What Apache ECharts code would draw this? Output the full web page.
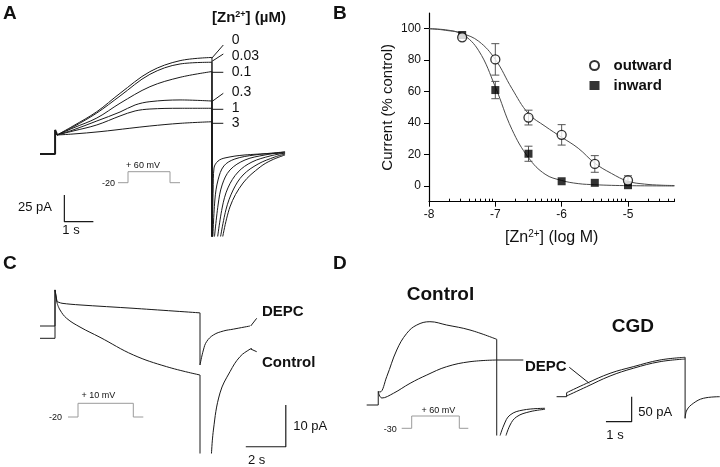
<!DOCTYPE html>
<html><head><meta charset="utf-8">
<script src="https://cdn.jsdelivr.net/npm/echarts@6/dist/echarts.min.js"></script>
<style>html,body{margin:0;padding:0;background:#fff}#c{width:720px;height:467px}</style>
</head><body><div id="c"></div>
<script>
// ---------- Panel B: dose-response ----------
const logConc = [-7.5, -7, -6.5, -6, -5.5, -5];
const outwardMean = [94.5, 80.5, 43.5, 32.5, 14, 3.5];
const outwardErr = [0, 10, 4.7, 6.5, 5.3, 3];
const inwardMean = [96, 61, 20.5, 3, 2, 0.5];
const inwardErr = [0, 5.5, 4.8, 0, 0, 0];
const fitX = [-8, -7.75, -7.5, -7.25, -7, -6.75, -6.5, -6.25, -6, -5.75, -5.5, -5.25, -5, -4.75, -4.5, -4.3];
const outwardFit = [100, 99.3, 97, 92, 80.5, 62, 46, 38, 31, 24, 14.5, 8, 3, 1.2, 0.5, 0.3];
const inwardFit = [100, 99, 96.5, 86, 63, 36, 18, 7.5, 3.5, 1.5, 0.8, 0.4, 0.2, 0.1, 0.05, 0];
const xTicks = [-8, -7, -6, -5];
const yTicks = [0, 20, 40, 60, 80, 100];

// ---------- Panel A: traces, time (s) / current (pA) ----------
const aHold = [[0, 0], [0.52, 0], [0.52, 22.5], [0.59, 17.8]];
const aStep0 = [[0.59, 17.8], [1.14, 26.2], [1.96, 39.6], [2.76, 56.8], [3.79, 77.1], [4.83, 87.4], [5.93, 90.4]];
const aTail0 = [[6.25, -85], [6.55, -49.6], [7.0, -27.2], [7.59, -12.2], [8.0, -5.6], [8.45, -0.9]];
const aStep003 = [[0.59, 17.8], [1.14, 25.3], [1.96, 38.4], [2.76, 54.3], [3.79, 74.6], [4.83, 84.3], [5.93, 85.9]];
const aTail003 = [[6.18, -85], [6.41, -52.4], [6.66, -33.7], [7.0, -19.7], [7.52, -9.4], [8.10, -2.8], [8.45, 0]];
const aStep01 = [[0.59, 17.8], [1.14, 24.3], [1.96, 33.7], [2.76, 47.5], [3.79, 63.0], [4.83, 71.8], [5.93, 77.2]];
const aTail01 = [[6.09, -85], [6.28, -50.6], [6.48, -31.8], [6.83, -16.9], [7.31, -7.5], [7.93, -1.9], [8.45, 0.9]];
const aStep03 = [[0.59, 17.8], [1.14, 22.5], [1.96, 30.9], [2.76, 39.3], [3.28, 45.9], [3.79, 49.0], [4.83, 50.6], [5.93, 49.6]];
const aTail03 = [[5.99, -85], [6.14, -47.8], [6.28, -29.0], [6.55, -15.0], [7.07, -5.6], [7.76, -0.9], [8.45, 1.9]];
const aStep1 = [[0.59, 17.8], [1.14, 21.5], [1.96, 27.2], [2.76, 35.6], [3.28, 40.3], [3.79, 42.1], [4.83, 42.8], [5.93, 42.8]];
const aTail1 = [[5.95, -85], [6.03, -43.1], [6.14, -24.3], [6.34, -11.2], [6.72, -4.7], [7.41, -0.9], [8.45, 1.9]];
const aStep3 = [[0.59, 17.8], [1.14, 18.7], [2.07, 20.9], [3.10, 24.1], [3.79, 26.2], [4.83, 28.7], [5.93, 30.2]];
const aTail3 = [[5.935, -85], [5.97, -33.7], [6.0, -13.1], [6.14, -6.6], [6.38, -3.7], [7.07, -0.9], [8.45, 0.9]];
const aConcLabels = ['0', '0.03', '0.1', '0.3', '1', '3'];
const aScaleBar = [[0.84, -38.4], [0.84, -63.4], [1.84, -63.4]]; // 25 pA, 1 s

// ---------- Panel C ----------
const cHoldDepc = [[0, 2.95], [0.75, 2.95], [0.75, 11.6], [0.85, 8.8]];
const cStepDepc = [[0.85, 8.8], [1.1, 8.4], [2.0, 8.0], [4.65, 7.2], [8.0, 6.1]];
const cTailDepc = [[8.0, -6.4], [8.17, -2.8], [8.33, -0.8], [8.67, 0.8], [9.17, 1.75], [9.67, 2.2], [10.5, 2.95]];
const cHoldCtrl = [[0, 0], [0.75, 0], [0.75, 11.6], [0.85, 8.5]];
const cStepCtrl = [[0.85, 8.5], [1.0, 6.8], [1.33, 4.8], [2.0, 2.7], [3.0, 0.24], [4.67, -4.0], [6.33, -6.8], [8.0, -8.8]];
const cTailCtrl = [[8.55, -30], [8.67, -22.0], [9.0, -13.1], [9.5, -8.0], [10.0, -4.4], [10.5, -2.6], [10.6, -2.45]];
const cScaleBar = [[12.29, -16.0], [12.29, -26.0], [10.29, -26.0]]; // 10 pA, 2 s

// ---------- Panel D ----------
const dHold = [[0.26, 0], [0.71, 0], [0.71, 27]];
const dCtrl = [[0.71, 27], [0.78, 26], [1.04, 56.6], [1.43, 110], [1.82, 143.4], [2.21, 160], [2.72, 166.6], [3.37, 160], [4.28, 150], [5.32, 131.4]];
const dDepc = [[0.71, 27], [0.85, 14], [1.30, 23.4], [1.95, 43.4], [2.60, 60], [3.37, 76.6], [4.28, 86.6], [5.32, 90]];
const dTailA = [[5.40, -70], [5.60, -40], [5.84, -20], [6.35, -10], [7.20, -6.6]];
const dTailB = [[5.63, -70], [5.84, -40], [6.10, -23.4], [6.61, -13.4], [7.20, -8.6]];
const gHold = [[7.65, 16.6], [8.04, 16.6], [8.04, 24.6]];
const gUpper = [[8.04, 24.6], [8.82, 43.4], [9.73, 63.4], [10.63, 76.6], [11.67, 90], [12.65, 95.4]];
const gLower = [[8.04, 18], [8.82, 36.6], [9.73, 58], [10.63, 73.4], [11.67, 86.6], [12.65, 92]];
const gTail = [[12.65, -26.6], [12.72, -10], [12.97, 3.4], [13.36, 13.4], [14.0, 16.6]];
const dScaleBar = [[10.57, 16.6], [10.57, -33.4], [9.57, -33.4]]; // 50 pA, 1 s

const FONT = '"Liberation Sans", Arial, Helvetica, sans-serif';
const INK = '#1a1a1a';

function ln(xi, yi, data, opts) {
  opts = opts || {};
  return {
    type: 'line', xAxisIndex: xi, yAxisIndex: yi, data: data,
    smooth: opts.smooth || false, symbol: 'none', clip: true, silent: true,
    lineStyle: { color: opts.color || INK, width: opts.width || 1 }, z: opts.z || 2
  };
}
function drop(pt, bottom) { return [[pt[0], pt[1]], [pt[0], bottom]]; }
function last(a) { return a[a.length - 1]; }

const series = [];
// ---- B ----
series.push(ln(0, 0, fitX.map((x, i) => [x, outwardFit[i]]), { smooth: 0.4, color: '#4a4a4a', z: 1 }));
series.push(ln(0, 0, fitX.map((x, i) => [x, inwardFit[i]]), { smooth: 0.4, color: '#4a4a4a', z: 1 }));
const errData = [];
logConc.forEach((x, i) => {
  if (outwardErr[i] > 0) errData.push([x, outwardMean[i] - outwardErr[i], outwardMean[i] + outwardErr[i]]);
  if (inwardErr[i] > 0) errData.push([x, inwardMean[i] - inwardErr[i], inwardMean[i] + inwardErr[i]]);
});
series.push({
  type: 'custom', xAxisIndex: 0, yAxisIndex: 0, data: errData, silent: true, z: 2,
  renderItem: function (params, api) {
    const x = api.value(0);
    const p1 = api.coord([x, api.value(1)]), p2 = api.coord([x, api.value(2)]);
    const w = 4, st = { stroke: '#555', lineWidth: 1 };
    return { type: 'group', children: [
      { type: 'line', shape: { x1: p1[0], y1: p1[1], x2: p2[0], y2: p2[1] }, style: st },
      { type: 'line', shape: { x1: p1[0] - w, y1: p1[1], x2: p1[0] + w, y2: p1[1] }, style: st },
      { type: 'line', shape: { x1: p2[0] - w, y1: p2[1], x2: p2[0] + w, y2: p2[1] }, style: st }
    ] };
  }
});
series.push({
  name: 'outward', type: 'scatter', xAxisIndex: 0, yAxisIndex: 0, z: 4, silent: true,
  data: logConc.map((x, i) => [x, outwardMean[i]]), symbol: 'circle', symbolSize: 9,
  itemStyle: { color: '#fff', borderColor: '#000', borderWidth: 1.3 }
});
series.push({
  name: 'inward', type: 'scatter', xAxisIndex: 0, yAxisIndex: 0, z: 3, silent: true,
  data: logConc.map((x, i) => [x, inwardMean[i]]), symbol: 'rect', symbolSize: 8,
  itemStyle: { color: '#000' }
});

// ---- A ----
const aBottom = -85;
series.push(ln(2, 1, aHold, { width: 2 }));
[[aStep0, aTail0], [aStep003, aTail003], [aStep01, aTail01], [aStep03, aTail03], [aStep1, aTail1], [aStep3, aTail3]].forEach(function (p) {
  series.push(ln(2, 1, p[0], { smooth: 0.35 }));
  series.push(ln(2, 1, drop(last(p[0]), aBottom)));
  series.push(ln(2, 1, p[1], { smooth: 0.35 }));
});
series.push(ln(2, 1, aScaleBar, { width: 1.2 }));

// ---- C ----
series.push(ln(3, 2, cHoldDepc));
series.push(ln(3, 2, cStepDepc, { smooth: 0.3 }));
series.push(ln(3, 2, [last(cStepDepc), cTailDepc[0]]));
series.push(ln(3, 2, cTailDepc, { smooth: 0.4 }));
series.push(ln(3, 2, cHoldCtrl));
series.push(ln(3, 2, cStepCtrl, { smooth: 0.4 }));
series.push(ln(3, 2, drop(last(cStepCtrl), -30)));
series.push(ln(3, 2, cTailCtrl, { smooth: 0.4 }));
series.push(ln(3, 2, cScaleBar, { width: 1.2 }));

// ---- D ----
series.push(ln(4, 3, dHold));
series.push(ln(4, 3, dCtrl, { smooth: 0.4 }));
series.push(ln(4, 3, dDepc, { smooth: 0.4 }));
series.push(ln(4, 3, drop(last(dCtrl), -80)));
series.push(ln(4, 3, dTailA, { smooth: 0.4 }));
series.push(ln(4, 3, dTailB, { smooth: 0.4 }));
series.push(ln(4, 3, gHold));
series.push(ln(4, 3, gUpper, { smooth: 0.4 }));
series.push(ln(4, 3, gLower, { smooth: 0.4 }));
series.push(ln(4, 3, drop(last(gUpper), gTail[0][1])));
series.push(ln(4, 3, gTail, { smooth: 0.4 }));
series.push(ln(4, 3, dScaleBar, { width: 1.2 }));

// minor log ticks for panel B
const minorTicks = [];
[-8, -7, -6, -5].forEach(function (d) {
  for (let k = 2; k <= 9; k++) { const v = d + Math.log10(k); if (v <= -4.3) minorTicks.push(v); }
});

function txt(t, x, y, o) {
  o = o || {};
  return { type: 'text', x: x, y: y, silent: true, z: 10, style: {
    text: t, fill: o.fill || '#111', fontSize: o.size || 13, fontWeight: o.bold ? 'bold' : 'normal',
    fontFamily: FONT, align: o.align || 'left', textAlign: o.align || 'left',
    verticalAlign: 'middle', textVerticalAlign: 'middle', rich: o.rich
  } };
}
function pl(points, color) {
  return { type: 'polyline', silent: true, z: 10, shape: { points: points }, style: { stroke: color || INK, lineWidth: 1, fill: null } };
}
const PROTO = '#9a9a9a';
const graphics = [
  txt('A', 3, 14, { size: 19, bold: true }),
  txt('B', 333, 14, { size: 19, bold: true }),
  txt('C', 3, 264, { size: 19, bold: true }),
  txt('D', 333, 264, { size: 19, bold: true }),
  txt('[Zn{s|2+}] (µM)', 212, 18, { size: 15, bold: true, rich: { s: { fontSize: 9, fontWeight: 'bold', fontFamily: FONT, verticalAlign: 'top', padding: [0, 0, 6, 0] } } }),
  txt(aConcLabels[0], 231.7, 40, { size: 14 }),
  txt(aConcLabels[1], 231.7, 56, { size: 14 }),
  txt(aConcLabels[2], 231.7, 72.3, { size: 14 }),
  txt(aConcLabels[3], 231.7, 91.7, { size: 14 }),
  txt(aConcLabels[4], 231.7, 108.3, { size: 14 }),
  txt(aConcLabels[5], 231.7, 123.3, { size: 14 }),
  pl([[211.7, 58.3], [223.3, 45]]), pl([[211.7, 61.5], [223.3, 54]]), pl([[212, 72.3], [223.3, 72.3]]),
  pl([[211.7, 101.7], [223.3, 93.3]]), pl([[212, 109.3], [223.3, 109.3]]), pl([[212, 123.3], [223.3, 123.3]]),
  pl([[118, 182.7], [128, 182.7], [128, 171.7], [170, 171.7], [170, 182.7], [180, 182.7]], PROTO),
  txt('-20', 115, 183.5, { size: 9, align: 'right' }),
  txt('+ 60 mV', 143, 165.7, { size: 9, align: 'center' }),
  txt('25 pA', 52, 207, { size: 13, align: 'right' }),
  txt('1 s', 71, 230.5, { size: 13, align: 'center' }),
  // C
  txt('DEPC', 262, 311.7, { size: 15, bold: true }),
  txt('Control', 262, 363.3, { size: 15, bold: true }),
  pl([[250.7, 326], [256.7, 318.3]]), pl([[250.7, 349], [256.7, 351.7]]),
  pl([[68, 417], [78, 417], [78, 403.3], [133.3, 403.3], [133.3, 417], [143.3, 417]], PROTO),
  txt('-20', 62, 417.5, { size: 9, align: 'right' }),
  txt('+ 10 mV', 98.3, 395.7, { size: 9, align: 'center' }),
  txt('10 pA', 293.3, 426, { size: 13 }),
  txt('2 s', 256.7, 460.7, { size: 13, align: 'center' }),
  // D
  txt('Control', 406.7, 295, { size: 19, bold: true }),
  txt('CGD', 611.7, 326.7, { size: 19, bold: true }),
  txt('DEPC', 525, 366.7, { size: 15, bold: true }),
  pl([[496.7, 360], [523.3, 360]]), pl([[569.3, 367.3], [589.3, 383.3]]),
  pl([[401.7, 428.3], [411.7, 428.3], [411.7, 416], [459.3, 416], [459.3, 428.3], [468.3, 428.3]], PROTO),
  txt('-30', 396.7, 429.5, { size: 9, align: 'right' }),
  txt('+ 60 mV', 438.3, 410.7, { size: 9, align: 'center' }),
  txt('50 pA', 638.3, 412.7, { size: 13 }),
  txt('1 s', 615, 435, { size: 13, align: 'center' })
];

const hidden = { show: false };
const option = {
  animation: false,
  backgroundColor: '#fff',
  textStyle: { fontFamily: FONT },
  grid: [
    { left: 429, top: 13, width: 245.4, height: 188.7 },
    { left: 40, top: 30, width: 250, height: 206 },
    { left: 40, top: 280, width: 260, height: 173 },
    { left: 360, top: 280, width: 360, height: 155 }
  ],
  xAxis: [
    { type: 'value', gridIndex: 0, position: 'bottom', min: -8, max: -4.3,
      name: '[Zn{s|2+}] (log M)', nameLocation: 'middle', nameGap: 28,
      nameTextStyle: { fontSize: 16, color: '#111', fontFamily: FONT, rich: { s: { fontSize: 10, verticalAlign: 'top', padding: [0, 0, 6, 0], fontFamily: FONT } } },
      splitLine: { show: false },
      axisLine: { onZero: false, lineStyle: { color: '#000', width: 1.2 } },
      axisTick: { customValues: xTicks, length: 5, inside: false, lineStyle: { color: '#000' } },
      axisLabel: { customValues: xTicks, fontSize: 12, color: '#111', margin: 7, fontFamily: FONT } },
    { type: 'value', gridIndex: 0, position: 'bottom', min: -8, max: -4.3,
      splitLine: { show: false }, axisLine: { show: false, onZero: false },
      axisTick: { customValues: minorTicks, length: 3, inside: true, lineStyle: { color: '#000' } },
      axisLabel: { show: false } },
    Object.assign({ type: 'value', gridIndex: 1, min: 0, max: 250 / 29 }, hidden),
    Object.assign({ type: 'value', gridIndex: 2, min: 0, max: 13 }, hidden),
    Object.assign({ type: 'value', gridIndex: 3, min: 0, max: 360 / 25.7 }, hidden)
  ],
  yAxis: [
    { type: 'value', gridIndex: 0, min: -10, max: 110,
      name: 'Current (% control)', nameLocation: 'middle', nameGap: 34,
      nameTextStyle: { fontSize: 15, color: '#111', fontFamily: FONT },
      splitLine: { show: false },
      axisLine: { show: true, onZero: false, lineStyle: { color: '#000', width: 1.2 } },
      axisTick: { show: true, customValues: yTicks, length: 5, lineStyle: { color: '#000' } },
      axisLabel: { customValues: yTicks, fontSize: 12, color: '#111', margin: 8, fontFamily: FONT } },
    Object.assign({ type: 'value', gridIndex: 1, min: -76.8, max: 116.1 }, hidden),
    Object.assign({ type: 'value', gridIndex: 2, min: -27.5, max: 13.98 }, hidden),
    Object.assign({ type: 'value', gridIndex: 3, min: -60, max: 250 }, hidden)
  ],
  legend: {
    data: [{ name: 'outward', icon: 'circle' }, { name: 'inward', icon: 'rect' }],
    orient: 'vertical', left: 584, top: 53, itemWidth: 10, itemHeight: 9, itemGap: 5,
    selectedMode: false,
    textStyle: { fontSize: 15, fontWeight: 'bold', color: '#111', fontFamily: FONT, lineHeight: 15, padding: [0, 0, 0, 9] }
  },
  graphic: graphics,
  series: series
};
const chart = echarts.init(document.getElementById('c'), null, { renderer: 'canvas' });
chart.setOption(option);
</script></body></html>
